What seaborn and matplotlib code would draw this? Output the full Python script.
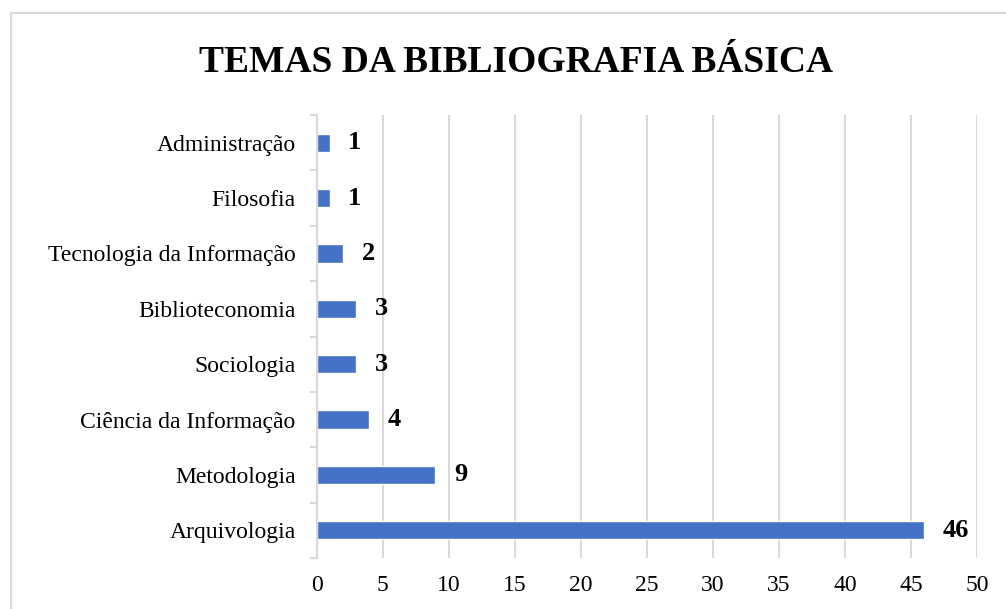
import matplotlib
matplotlib.use("Agg")
import matplotlib.pyplot as plt
import seaborn as sns
import pandas as pd
from matplotlib.patches import Rectangle
from matplotlib.ticker import FixedLocator

categories = ["Administração", "Filosofia", "Tecnologia da Informação", "Biblioteconomia",
              "Sociologia", "Ciência da Informação", "Metodologia", "Arquivologia"]
values = [1, 1, 2, 3, 3, 4, 9, 46]
x_ticks = [0, 5, 10, 15, 20, 25, 30, 35, 40, 45, 50]
title = "TEMAS DA BIBLIOGRAFIA BÁSICA"

sns.set_theme(style="white")
plt.rcParams["font.family"] = ["Liberation Serif", "DejaVu Serif"]

df = pd.DataFrame({"tema": categories, "n": values})

fig = plt.figure(figsize=(10.06, 6.09), dpi=100)
ax = fig.add_axes([316.5 / 1006, 1 - 558 / 609, (977 - 316.5) / 1006, (558 - 115) / 609])

sns.barplot(data=df, y="tema", x="n", orient="h", color="#4472C4", width=0.33,
            saturation=1, ax=ax, order=categories, zorder=3)

grid_c = "#d9d9d9"
ax.set_xlim(0, 50)
ax.set_ylim(7.5, -0.5)
ax.set_xticks(x_ticks)
ax.set_xticklabels([str(t) for t in x_ticks], fontsize=17)
ax.xaxis.grid(True, color=grid_c, linewidth=1.5, zorder=0)
ax.yaxis.grid(False)
ax.set_axisbelow(True)
ax.set_xlabel("")
ax.set_ylabel("")

for s in ["top", "right", "bottom"]:
    ax.spines[s].set_visible(False)
ax.spines["left"].set_color(grid_c)
ax.spines["left"].set_linewidth(1.5)
ax.spines["left"].set_zorder(4)

ax.tick_params(axis="x", length=0, pad=12, colors="black")
ax.tick_params(axis="y", which="major", length=0, pad=15, labelsize=17, colors="black")
ax.yaxis.set_minor_locator(FixedLocator([i - 0.5 for i in range(len(categories) + 1)]))
ax.tick_params(axis="y", which="minor", length=5, width=1.5, color=grid_c, left=True)

for i, v in enumerate(values):
    ax.text(v + 1.4, i, str(v), va="center", ha="left", fontsize=19, fontweight="bold",
            color="black")

fig.text(516 / 1006, 1 - 62 / 609, title, ha="center", va="center", fontsize=27,
         fontweight="bold", color="black")

fig.patches.append(Rectangle((11 / 1006, -0.1), 1.2, 1 - 13 / 609 + 0.1,
                             transform=fig.transFigure, fill=False,
                             edgecolor=grid_c, linewidth=1.5))

fig.savefig("out.png", dpi=100, facecolor="white")
